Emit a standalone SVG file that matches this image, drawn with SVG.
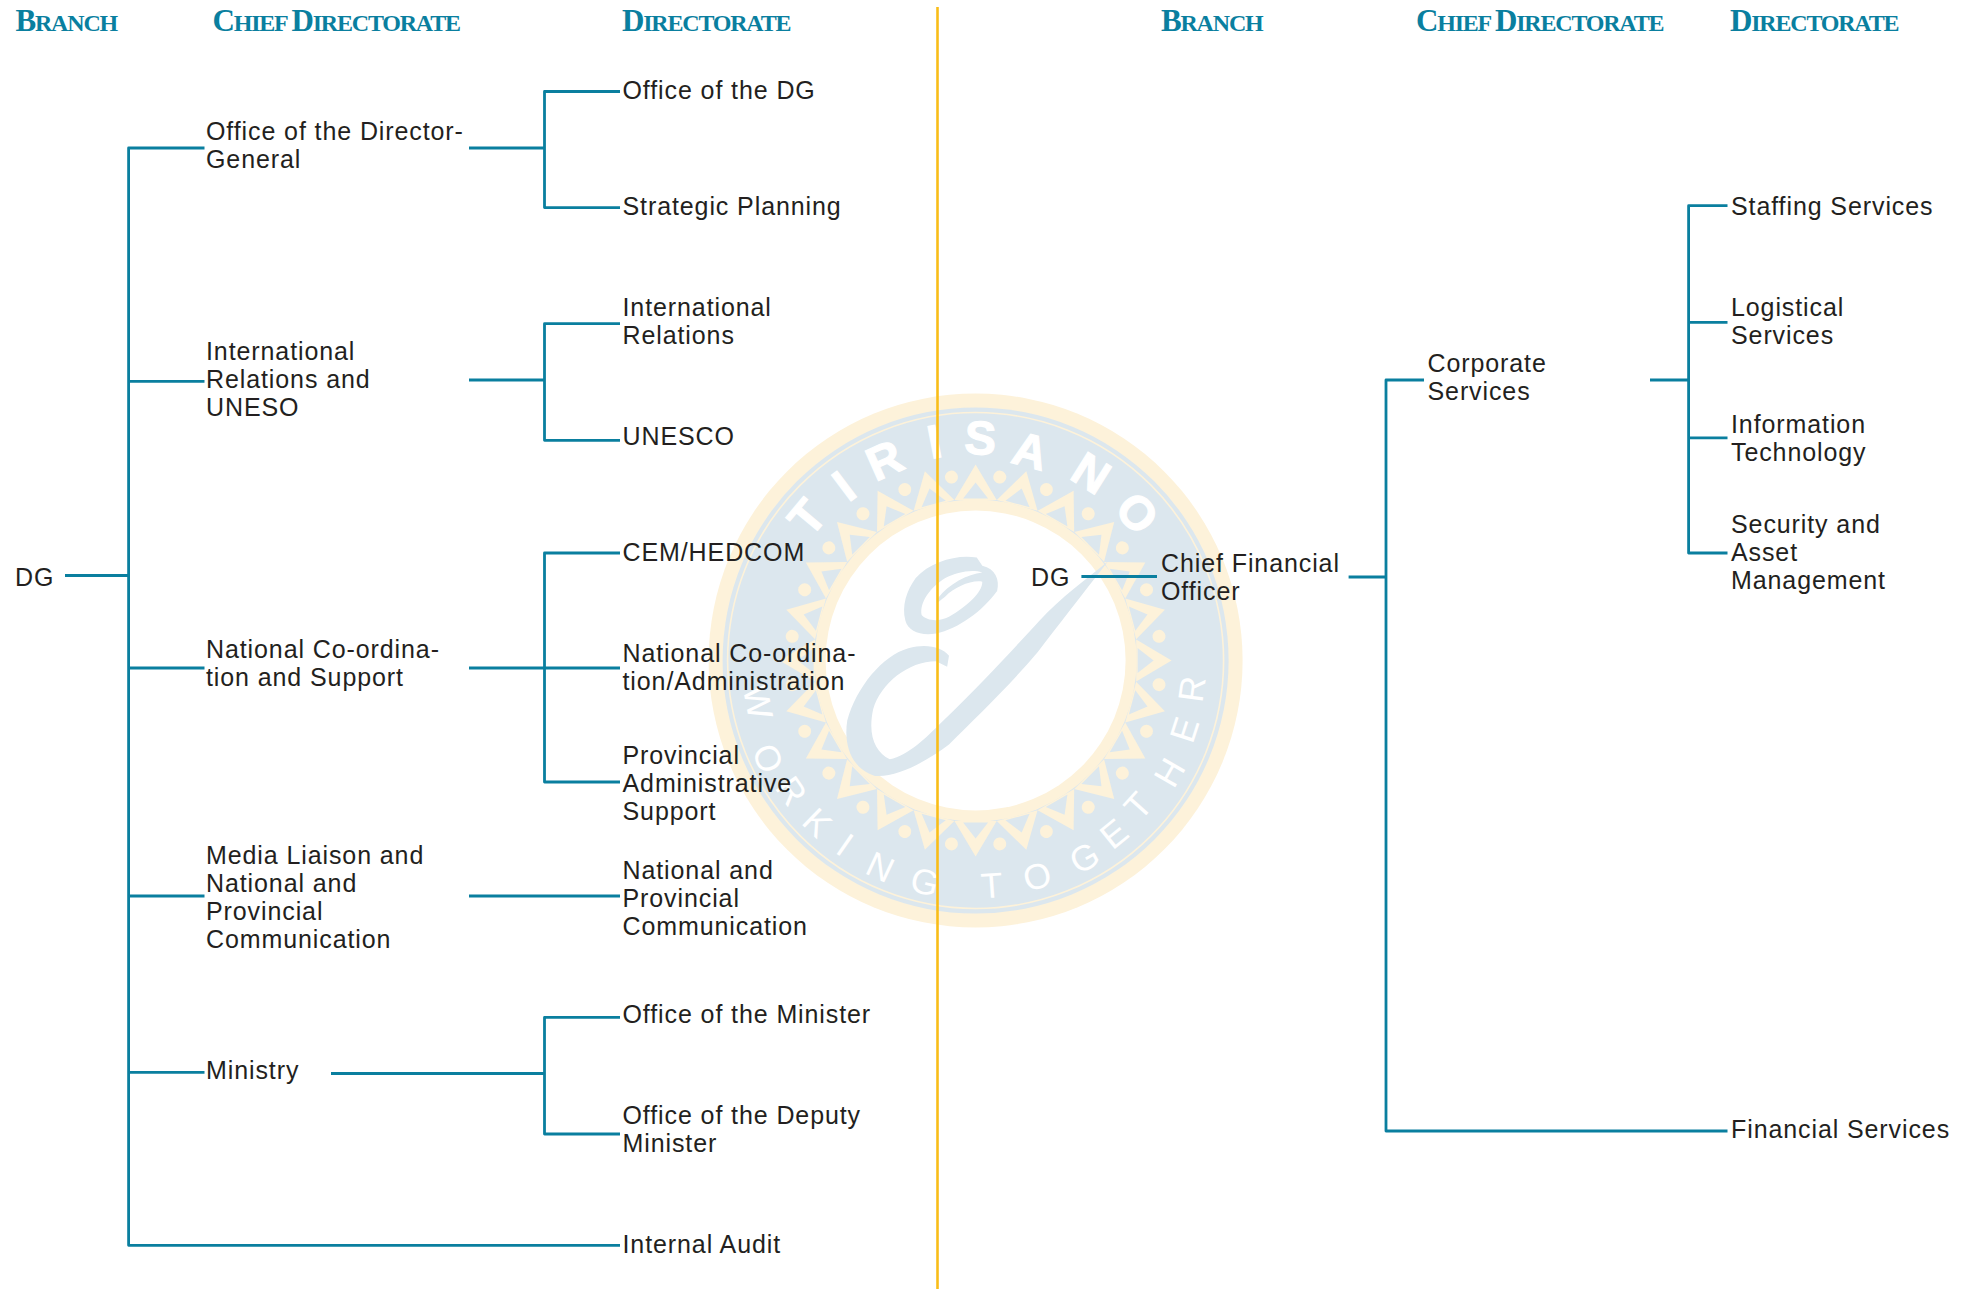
<svg xmlns="http://www.w3.org/2000/svg" xmlns:xlink="http://www.w3.org/1999/xlink" width="1967" height="1289" viewBox="0 0 1967 1289">
<style>
.t{font-family:"Liberation Sans",Arial,sans-serif;font-size:25px;letter-spacing:.9px;fill:#231f20}
.h{font-family:"Liberation Serif","Times New Roman",serif;font-weight:bold;font-size:24px;letter-spacing:-1.2px;fill:#0a7f9f}
.h .c{font-size:31px}
.c1{fill:none;stroke:#0a7f9f;stroke-width:2.8;stroke-linejoin:round}
.top{font-family:"Liberation Sans",Arial,sans-serif;font-weight:bold;font-size:128px;fill:#fff;stroke:#fff;stroke-width:3;text-anchor:middle}
.bot{font-family:"Liberation Sans",Arial,sans-serif;font-size:96px;fill:#fff;text-anchor:middle}
</style>
<defs>
<g id="ray"><polygon points="0,-196 21.1,-160.6 -21.1,-160.6" fill="#fdf2da"/><polygon points="0,-178 12.5,-162 -12.5,-162" fill="#dce7ee"/></g>
<circle id="dot" cx="0" cy="-185" r="6.5" fill="#fdf2da"/>
</defs>
<g id="emblem">
<circle cx="975.6" cy="660.5" r="267" fill="#fdf2da"/>
<circle cx="975.6" cy="660.5" r="253" fill="#dce7ee"/>
<circle cx="975.6" cy="660.5" r="248" fill="none" stroke="#fdf2da" stroke-width="1.6"/>
<g transform="translate(975.6 660.5)">
<circle r="161" fill="#fdf2da"/>
<use xlink:href="#ray"/><use xlink:href="#ray" transform="rotate(15)"/><use xlink:href="#ray" transform="rotate(30)"/><use xlink:href="#ray" transform="rotate(45)"/><use xlink:href="#ray" transform="rotate(60)"/><use xlink:href="#ray" transform="rotate(75)"/><use xlink:href="#ray" transform="rotate(90)"/><use xlink:href="#ray" transform="rotate(105)"/><use xlink:href="#ray" transform="rotate(120)"/><use xlink:href="#ray" transform="rotate(135)"/><use xlink:href="#ray" transform="rotate(150)"/><use xlink:href="#ray" transform="rotate(165)"/><use xlink:href="#ray" transform="rotate(180)"/><use xlink:href="#ray" transform="rotate(195)"/><use xlink:href="#ray" transform="rotate(210)"/><use xlink:href="#ray" transform="rotate(225)"/><use xlink:href="#ray" transform="rotate(240)"/><use xlink:href="#ray" transform="rotate(255)"/><use xlink:href="#ray" transform="rotate(270)"/><use xlink:href="#ray" transform="rotate(285)"/><use xlink:href="#ray" transform="rotate(300)"/><use xlink:href="#ray" transform="rotate(315)"/><use xlink:href="#ray" transform="rotate(330)"/><use xlink:href="#ray" transform="rotate(345)"/>
<use xlink:href="#dot" transform="rotate(7.5)"/><use xlink:href="#dot" transform="rotate(22.5)"/><use xlink:href="#dot" transform="rotate(37.5)"/><use xlink:href="#dot" transform="rotate(52.5)"/><use xlink:href="#dot" transform="rotate(67.5)"/><use xlink:href="#dot" transform="rotate(82.5)"/><use xlink:href="#dot" transform="rotate(97.5)"/><use xlink:href="#dot" transform="rotate(112.5)"/><use xlink:href="#dot" transform="rotate(127.5)"/><use xlink:href="#dot" transform="rotate(142.5)"/><use xlink:href="#dot" transform="rotate(157.5)"/><use xlink:href="#dot" transform="rotate(172.5)"/><use xlink:href="#dot" transform="rotate(187.5)"/><use xlink:href="#dot" transform="rotate(202.5)"/><use xlink:href="#dot" transform="rotate(217.5)"/><use xlink:href="#dot" transform="rotate(232.5)"/><use xlink:href="#dot" transform="rotate(247.5)"/><use xlink:href="#dot" transform="rotate(262.5)"/><use xlink:href="#dot" transform="rotate(277.5)"/><use xlink:href="#dot" transform="rotate(292.5)"/><use xlink:href="#dot" transform="rotate(307.5)"/><use xlink:href="#dot" transform="rotate(322.5)"/><use xlink:href="#dot" transform="rotate(337.5)"/><use xlink:href="#dot" transform="rotate(352.5)"/>
<circle r="150" fill="#fff"/>
</g>
<g transform="translate(690 380) scale(.37)">
<path fill="#dce7ee" fill-rule="evenodd" d="M775 480C725 470 650 490 610 535C585 570 572 610 582 650C590 680 625 692 665 685C725 672 790 625 830 570C838 540 825 510 790 502ZM790 520C750 525 700 550 670 590C660 610 672 600 690 585C715 560 760 540 790 545C790 575 750 610 700 640C670 655 640 650 626 635C620 600 650 560 690 535C720 520 760 510 790 520Z"/>
<path fill="#dce7ee" fill-rule="evenodd" d="M700 745C680 722 640 712 590 725C520 745 450 830 425 920C415 985 435 1050 500 1070C560 1075 640 1030 700 985C770 915 860 830 940 735C990 670 1060 580 1130 490C1075 535 1000 590 945 650C880 720 790 820 680 925C640 965 590 1015 540 1025C500 1005 480 960 495 890C515 820 590 760 665 760L695 775Z"/>
<g class="top">
<text transform="translate(315 370) rotate(-50)" dy=".36em">T</text>
<text transform="translate(415 285) rotate(-37)" dy=".36em">I</text>
<text transform="translate(525 215) rotate(-24)" dy=".36em">R</text>
<text transform="translate(660 165) rotate(-11)" dy=".36em">I</text>
<text transform="translate(785 155) rotate(3)" dy=".36em">S</text>
<text transform="translate(920 190) rotate(15)" dy=".36em">A</text>
<text transform="translate(1085 250) rotate(32)" dy=".36em">N</text>
<text transform="translate(1210 358) rotate(48)" dy=".36em">O</text>
</g>
<g class="bot">
<text transform="translate(185 870) rotate(79)" dy=".36em">W</text>
<text transform="translate(212 1022) rotate(65)" dy=".36em">O</text>
<text transform="translate(275 1110) rotate(55)" dy=".36em">R</text>
<text transform="translate(345 1195) rotate(44)" dy=".36em">K</text>
<text transform="translate(420 1255) rotate(35)" dy=".36em">I</text>
<text transform="translate(515 1315) rotate(25)" dy=".36em">N</text>
<text transform="translate(635 1355) rotate(13)" dy=".36em">G</text>
<text transform="translate(815 1365) rotate(-4)" dy=".36em">T</text>
<text transform="translate(938 1340) rotate(-16)" dy=".36em">O</text>
<text transform="translate(1065 1290) rotate(-29)" dy=".36em">G</text>
<text transform="translate(1145 1225) rotate(-39)" dy=".36em">E</text>
<text transform="translate(1210 1150) rotate(-48)" dy=".36em">T</text>
<text transform="translate(1295 1060) rotate(-60)" dy=".36em">H</text>
<text transform="translate(1335 945) rotate(-72)" dy=".36em">E</text>
<text transform="translate(1355 835) rotate(-82)" dy=".36em">R</text>
</g>
</g>
</g>
<g id="connectors" class="c1">
<path d="M65 575.5H128.6"/>
<path d="M204.5 148H128.6V1245.3H620"/>
<path d="M128.6 381.4H204.5M128.6 668H204.5M128.6 896H204.5M128.6 1072.4H204.5"/>
<path d="M469 148H544.5M620 91.5H544.5V207.6H620"/>
<path d="M469 380H544.5M620 323.7H544.5V440.3H620"/>
<path d="M469 668H620M620 553H544.5V782H620"/>
<path d="M469 896H620"/>
<path d="M331 1073.5H544.5M620 1017.4H544.5V1134H620"/>
<path d="M1081.4 576.5H1157"/>
<path d="M1348.6 577H1386"/>
<path d="M1424 380H1386V1131H1727.5"/>
<path d="M1650 380H1688.6"/>
<path d="M1727.5 205.7H1688.6V553H1727.5M1688.6 322.4H1727.5M1688.6 437.8H1727.5"/>
</g>
<g id="divider"><path d="M937.5 7V1289" fill="none" stroke="#f9bd18" stroke-width="2.6"/></g>
<g id="headers" class="h">
<text x="15.5" y="31"><tspan class="c">B</tspan>RANCH</text>
<text x="212.5" y="31"><tspan class="c">C</tspan>HIEF <tspan class="c">D</tspan>IRECTORATE</text>
<text x="622" y="31"><tspan class="c">D</tspan>IRECTORATE</text>
<text x="1161" y="31"><tspan class="c">B</tspan>RANCH</text>
<text x="1416" y="31"><tspan class="c">C</tspan>HIEF <tspan class="c">D</tspan>IRECTORATE</text>
<text x="1730" y="31"><tspan class="c">D</tspan>IRECTORATE</text>
</g>
<g id="n-dg-left"><text class="t" x="15" y="586">DG</text></g>
<g id="n-odg"><text class="t" x="206" y="140">Office of the Director-</text><text class="t" x="206" y="168">General</text></g>
<g id="n-ir"><text class="t" x="206" y="360">International</text><text class="t" x="206" y="388">Relations and</text><text class="t" x="206" y="416">UNESO</text></g>
<g id="n-nc"><text class="t" x="206" y="658">National Co-ordina-</text><text class="t" x="206" y="686">tion and Support</text></g>
<g id="n-media"><text class="t" x="206" y="863.5">Media Liaison and</text><text class="t" x="206" y="891.5">National and</text><text class="t" x="206" y="919.5">Provincial</text><text class="t" x="206" y="947.5">Communication</text></g>
<g id="n-ministry"><text class="t" x="206" y="1078.5">Ministry</text></g>
<g id="d-odg"><text class="t" x="622.5" y="99">Office of the DG</text></g>
<g id="d-sp"><text class="t" x="622.5" y="215">Strategic Planning</text></g>
<g id="d-ir"><text class="t" x="622.5" y="315.5">International</text><text class="t" x="622.5" y="343.5">Relations</text></g>
<g id="d-unesco"><text class="t" x="622.5" y="444.5">UNESCO</text></g>
<g id="d-cem"><text class="t" x="622.5" y="561">CEM/HEDCOM</text></g>
<g id="d-nc"><text class="t" x="622.5" y="661.5">National Co-ordina-</text><text class="t" x="622.5" y="689.5">tion/Administration</text></g>
<g id="d-pas"><text class="t" x="622.5" y="764">Provincial</text><text class="t" x="622.5" y="792">Administrative</text><text class="t" x="622.5" y="820">Support</text></g>
<g id="d-npc"><text class="t" x="622.5" y="878.5">National and</text><text class="t" x="622.5" y="906.5">Provincial</text><text class="t" x="622.5" y="934.5">Communication</text></g>
<g id="d-om"><text class="t" x="622.5" y="1023">Office of the Minister</text></g>
<g id="d-odm"><text class="t" x="622.5" y="1124">Office of the Deputy</text><text class="t" x="622.5" y="1152">Minister</text></g>
<g id="d-ia"><text class="t" x="622.5" y="1252.5">Internal Audit</text></g>
<g id="n-dg-right"><text class="t" x="1031" y="586">DG</text></g>
<g id="n-cfo"><text class="t" x="1161" y="572">Chief Financial</text><text class="t" x="1161" y="600">Officer</text></g>
<g id="n-corp"><text class="t" x="1427.5" y="372">Corporate</text><text class="t" x="1427.5" y="400">Services</text></g>
<g id="d-staff"><text class="t" x="1731" y="215">Staffing Services</text></g>
<g id="d-log"><text class="t" x="1731" y="315.5">Logistical</text><text class="t" x="1731" y="343.5">Services</text></g>
<g id="d-it"><text class="t" x="1731" y="432.5">Information</text><text class="t" x="1731" y="460.5">Technology</text></g>
<g id="d-sec"><text class="t" x="1731" y="532.5">Security and</text><text class="t" x="1731" y="560.5">Asset</text><text class="t" x="1731" y="588.5">Management</text></g>
<g id="d-fin"><text class="t" x="1731" y="1138">Financial Services</text></g>
</svg>
